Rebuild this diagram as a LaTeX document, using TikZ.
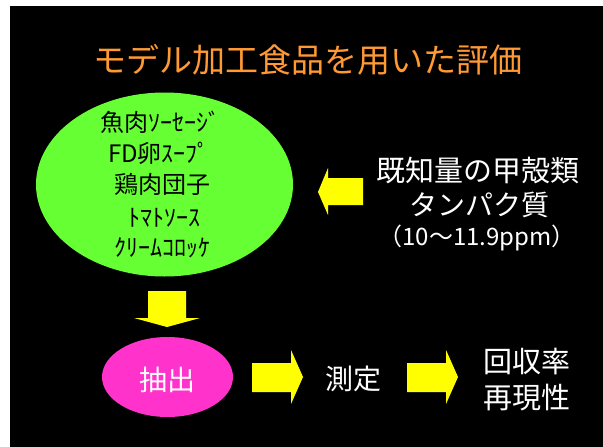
\documentclass[tikz,border=0pt]{standalone}
\usepackage{fontspec}
\usetikzlibrary{shapes.geometric}
\setmainfont{Noto Sans CJK JP}
\definecolor{titleorange}{HTML}{FF9933}
\definecolor{limegreen}{HTML}{66FF33}
\definecolor{hotmagenta}{HTML}{FF33CC}
\definecolor{arrowyellow}{HTML}{FFFF00}
\begin{document}
\begin{tikzpicture}[x=1pt,y=-1pt,
  txt/.style={inner sep=0pt,anchor=base,text=white},
  blockarrow/.style={fill=arrowyellow,draw=none}]
\useasboundingbox (0,0) rectangle (603,447);
\fill[white] (0,0) rectangle (603,447);
\fill[black] (10,6) rectangle (603,447);
% title
\node[txt,text=titleorange,font=\fontsize{33}{36}\selectfont] (title) at (308,72.5) {モデル加工食品を用いた評価};
% green ellipse
\node[ellipse,fill=limegreen,minimum width=257pt,minimum height=184pt,inner sep=0pt] (foods) at (164.5,184.5) {};
\begin{scope}[every node/.style={txt,text=black,font=\fontsize{24}{26}\selectfont}]
\node (f1) at (160,131) {魚肉ｿｰｾｰｼﾞ};
\node (f2) at (159,162) {FD卵ｽｰﾌﾟ};
\node (f3) at (162,193) {鶏肉団子};
\node (f4) at (164,226) {ﾄﾏﾄｿｰｽ};
\node (f5) at (162,256) {ｸﾘｰﾑｺﾛｯｹ};
\end{scope}
% right text
\node[txt,font=\fontsize{29}{32}\selectfont] (r1) at (478,181) {既知量の甲殻類};
\node[txt,font=\fontsize{28}{32}\selectfont] (r2) at (479,215.5) {タンパク質};
\node[txt,font=\fontsize{24}{28}\selectfont] (r3) at (477,245) {（10〜11.9ppm）};
% left arrow
\fill[blockarrow] (363,178) -- (328,178) -- (328,168) -- (318,192) -- (328,215) -- (328,205) -- (363,205) -- cycle;
% down arrow
\fill[blockarrow] (148,291) -- (186,291) -- (186,318) -- (200,318) -- (167,327) -- (134,318) -- (148,318) -- cycle;
% magenta ellipse
\node[ellipse,fill=hotmagenta,minimum width=131pt,minimum height=80pt,inner sep=0pt] (extract) at (167.5,377) {};
\node[txt,font=\fontsize{28}{30}\selectfont] (extracttxt) at (167,390.5) {抽出};
% right arrows
\fill[blockarrow] (252,363) -- (291,363) -- (291,350) -- (303,377) -- (291,404) -- (291,392) -- (252,392) -- cycle;
\node[txt,font=\fontsize{28}{30}\selectfont] (measure) at (353.5,389.5) {測定};
\fill[blockarrow] (407,363) -- (446,363) -- (446,350) -- (458,377) -- (446,404) -- (446,392) -- (407,392) -- cycle;
\node[txt,font=\fontsize{29}{30}\selectfont] (res1) at (527,372) {回収率};
\node[txt,font=\fontsize{29}{30}\selectfont] (res2) at (527,408) {再現性};
\end{tikzpicture}
\end{document}
